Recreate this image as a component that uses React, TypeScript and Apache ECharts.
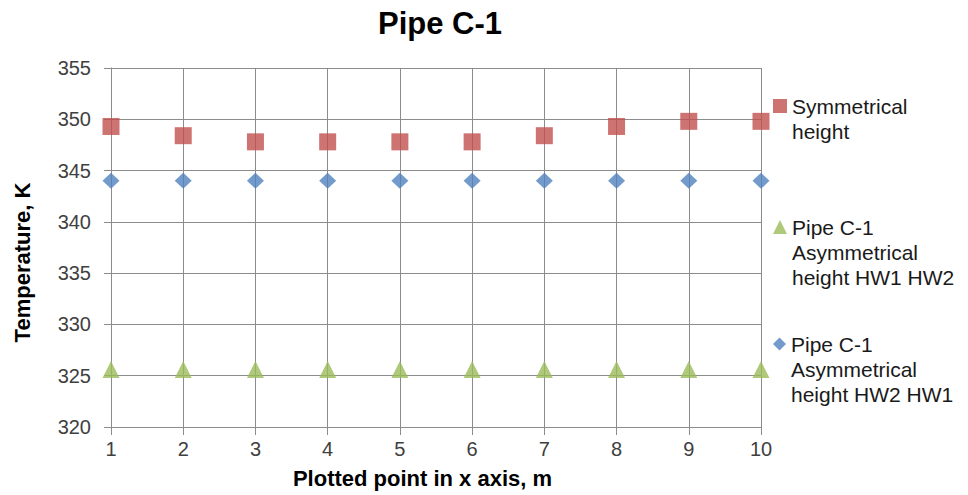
import React, { useEffect, useRef } from "react";
import * as echarts from "echarts";

const xPoints = [1, 2, 3, 4, 5, 6, 7, 8, 9, 10];
const symmetricalHeight = [349.3, 348.4, 347.8, 347.8, 347.8, 347.8, 348.4, 349.3, 349.8, 349.8];
const asymHW1HW2 = [325.6, 325.6, 325.6, 325.6, 325.6, 325.6, 325.6, 325.6, 325.6, 325.6];
const asymHW2HW1 = [344, 344, 344, 344, 344, 344, 344, 344, 344, 344];

const NAME_SYM = "Symmetrical\nheight";
const NAME_12 = "Pipe C-1\nAsymmetrical\nheight HW1 HW2";
const NAME_21 = "Pipe C-1\nAsymmetrical\nheight HW2 HW1";

const FONT = "'Liberation Sans', Arial, sans-serif";
const GRID = "#8c8c8c";
const LH = 25;

// pad with blank lines above so that the first line sits level with the icon
const topAlign = (name: string) => {
  const n = name.split("\n").length;
  return "\n".repeat(n - 1) + name;
};

export default function App() {
  const ref = useRef<HTMLDivElement>(null);
  useEffect(() => {
    if (!ref.current) return;
    const chart = echarts.init(ref.current, undefined, { renderer: "svg" });
    const toPts = (arr: number[]) => xPoints.map((x, i) => [x, arr[i]]);
    const legendBase = {
      orient: "vertical",
      left: 773,
      padding: 0,
      itemWidth: 14,
      itemHeight: 14,
      itemGap: 0,
      textGap: 4,
      formatter: topAlign,
      textStyle: { fontFamily: FONT, fontSize: 21, color: "#1a1a1a", lineHeight: LH },
    };
    chart.setOption({
      animation: false,
      backgroundColor: "#ffffff",
      title: {
        text: "Pipe C-1",
        left: 435,
        textAlign: "center",
        top: 3,
        textStyle: { fontFamily: FONT, fontSize: 31, fontWeight: "bold", color: "#000" },
      },
      grid: { left: 111, right: 207, top: 68, bottom: 68 },
      legend: [
        {
          ...legendBase,
          top: 106 - 37.5,
          data: [{ name: NAME_SYM, icon: "rect" }],
        },
        {
          ...legendBase,
          top: 227 - 62.5,
          data: [{ name: NAME_12, icon: "triangle" }],
        },
        {
          ...legendBase,
          top: 344 - 62.5,
          itemWidth: 13,
          itemHeight: 13,
          textGap: 5,
          data: [{ name: NAME_21, icon: "diamond" }],
        },
      ],
      xAxis: {
        type: "value",
        min: 1,
        max: 10,
        interval: 1,
        name: "Plotted point in x axis, m",
        nameLocation: "middle",
        nameGap: 40,
        nameTextStyle: {
          fontFamily: FONT,
          fontSize: 22,
          fontWeight: "bold",
          color: "#000",
          padding: [0, 27, 0, 0],
        },
        axisLine: { show: true, lineStyle: { color: GRID, width: 1 } },
        axisTick: { show: true, length: 8, lineStyle: { color: GRID } },
        splitLine: { show: true, lineStyle: { color: GRID, width: 1 } },
        axisLabel: { fontFamily: FONT, fontSize: 20, color: "#404040", margin: 12 },
      },
      yAxis: {
        type: "value",
        min: 320,
        max: 355,
        interval: 5,
        name: "Temperature, K",
        nameLocation: "middle",
        nameGap: 78,
        nameTextStyle: {
          fontFamily: FONT,
          fontSize: 22,
          fontWeight: "bold",
          color: "#000",
          padding: [0, 30, 0, 0],
        },
        axisLine: { show: true, lineStyle: { color: GRID, width: 1 } },
        axisTick: { show: true, length: 7, lineStyle: { color: GRID } },
        splitLine: { show: true, lineStyle: { color: GRID, width: 1 } },
        axisLabel: { fontFamily: FONT, fontSize: 20, color: "#404040", margin: 20 },
      },
      series: [
        {
          name: NAME_SYM,
          type: "scatter",
          symbol: "rect",
          symbolSize: 17,
          itemStyle: { color: "#C0504D" },
          data: toPts(symmetricalHeight),
        },
        {
          name: NAME_12,
          type: "scatter",
          symbol: "triangle",
          symbolSize: 17,
          itemStyle: { color: "#9BBB59" },
          data: toPts(asymHW1HW2),
        },
        {
          name: NAME_21,
          type: "scatter",
          symbol: "diamond",
          symbolSize: [17, 16],
          itemStyle: { color: "#4F81BD" },
          data: toPts(asymHW2HW1),
        },
      ],
    });
    return () => chart.dispose();
  }, []);
  return (
    <div
      ref={ref}
      style={{ position: "absolute", left: 0, top: 0, width: 968, height: 495 }}
    />
  );
}
